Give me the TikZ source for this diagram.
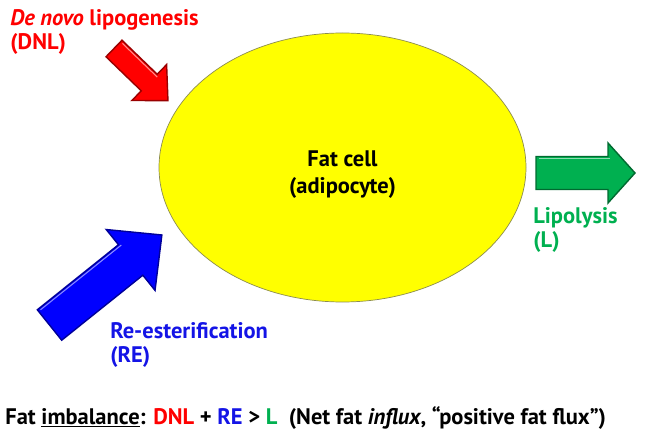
\documentclass[tikz,border=0pt]{standalone}
\usepackage{fontspec}
\setsansfont{PT Sans}
\usepackage{xcolor}
\usepackage{tikz}
\usetikzlibrary{positioning, shapes.geometric}
\definecolor{fred}{HTML}{FF0000}
\definecolor{fblue}{HTML}{0000FF}
\definecolor{fbluetext}{HTML}{1414E6}
\definecolor{fgreen}{HTML}{00B050}
\definecolor{fyellow}{HTML}{FFFF00}
\definecolor{fedge}{HTML}{8C8C50}
\tikzset{
  cellnode/.style={ellipse, draw=fedge, fill=fyellow, line width=0.4pt,
                   minimum width=7.34cm, minimum height=5.38cm, inner sep=0},
  flabel/.style={font=\fontsize{12.8}{13.8}\selectfont\sffamily\bfseries,
                 align=left, anchor=north west, inner sep=0},
  celllabel/.style={font=\fontsize{12.8}{15.3}\selectfont\sffamily\bfseries,
                    align=center, inner sep=0},
  arrowbody/.style={line width=0.8pt, line join=miter},
}
% block arrow: tail point, angle, length, shaft half width, head half width, head length, colour
\newcommand{\fatarrow}[7]{%
  \begin{scope}[shift={#1}, rotate=#2]
    \filldraw[arrowbody, fill=#7, draw=#7!60!black]
      (0,-#4) -- ({#3-#6},-#4) -- ({#3-#6},-#5) -- (#3,0)
      -- ({#3-#6},#5) -- ({#3-#6},#4) -- (0,#4) -- cycle;
    \draw[#7!45!white, line width=0.6pt]
      (0.05,#4-0.04) -- ({#3-#6+0.04},#4-0.04);
  \end{scope}
}

\begin{document}
\begin{tikzpicture}[x=1cm, y=1cm]

  \useasboundingbox (0,0) rectangle (12.9,8.8);

  % fat cell
  \node[cellnode] (cell) at (6.85,5.45) {};
  \node[celllabel] (celltext) at ([yshift=-0.14cm]cell.center) {Fat cell\\(adipocyte)};

  % fluxes
  \fatarrow{(2.28,7.83)}{-44}{1.50}{0.23}{0.50}{0.52}{fred}
  \fatarrow{(0.99,2.30)}{38.7}{2.88}{0.39}{0.78}{0.80}{fblue}
  \fatarrow{(10.72,5.34)}{0}{1.98}{0.33}{0.60}{0.54}{fgreen}

  \node[flabel, text=fred] (dnl) at (0.2,8.62) {\textit{De novo} lipogenesis\\(DNL)};
  \node[flabel, text=fbluetext] (re) at (2.2,2.36) {Re-esterification\\(RE)};
  \node[flabel, text=fgreen] (lipo) at (10.66,4.66) {Lipolysis\\(L)};

  % balance
  \node[font=\fontsize{12.8}{13.8}\selectfont\sffamily\bfseries, anchor=base west, inner sep=0]
    (balance) at (0.1,0.32) {Fat \underline{imbalance}: \textcolor{fred}{DNL} + \textcolor{fbluetext}{RE} > \textcolor{fgreen}{L}\ \ (Net fat \textit{influx}, “positive fat flux”)};

\end{tikzpicture}
\end{document}
